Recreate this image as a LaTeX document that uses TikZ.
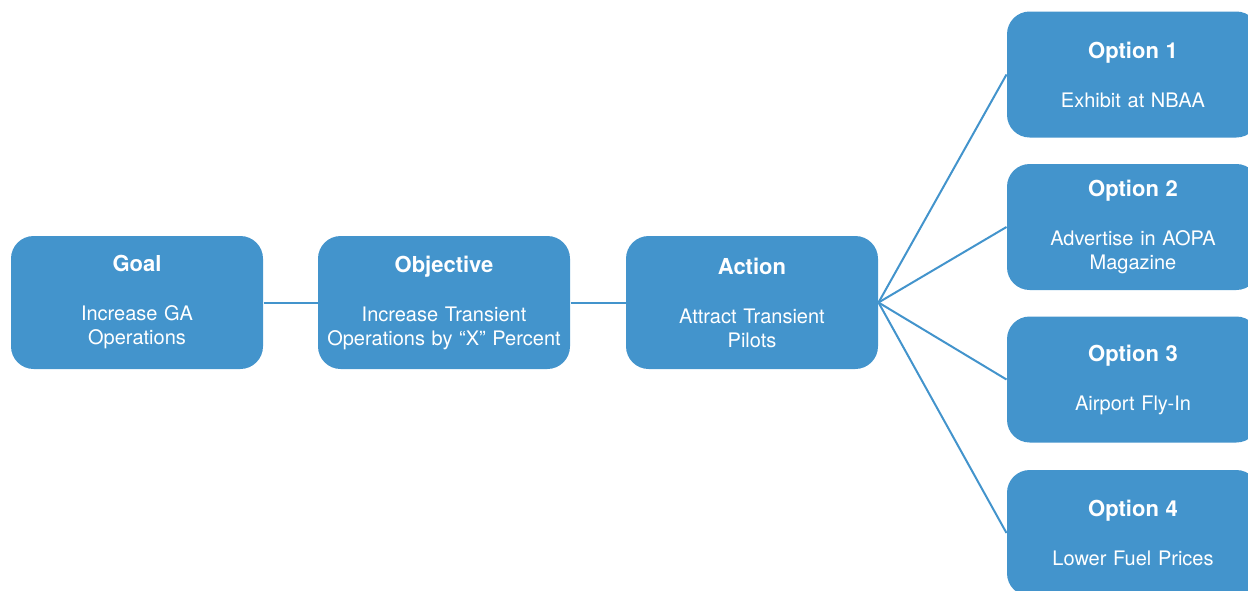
\documentclass[tikz,border=0pt]{standalone}
\usepackage{fontspec}
\setmainfont{TeX Gyre Heros}

\definecolor{boxblue}{RGB}{67,148,204}

\tikzset{every picture/.style={line width=0.75pt}}
\tikzset{
  stagebox/.style={fill=boxblue, draw=none, rounded corners=17pt, inner sep=0pt,
    minimum width=189pt, minimum height=99.75pt, text width=185pt, align=center,
    text=white, font=\fontsize{15}{18}\selectfont},
  optionbox/.style={stagebox, minimum height=94.5pt},
  link/.style={draw=boxblue, line width=1.5pt}
}
\newcommand{\boxtitle}[1]{{\bfseries\fontsize{16.5}{18}\selectfont #1}\\[18.75pt]}

\begin{document}
\begin{tikzpicture}[x=0.75pt,y=0.75pt,yscale=-1,xscale=1]
    \useasboundingbox (0,0) rectangle (1248,590);
    \clip (0,0) rectangle (1248,590);

    % Stage boxes
    \node [stagebox] (goal) at (137,302.5) {\boxtitle{Goal}Increase GA\\Operations};
    \node [stagebox] (objective) at (444,302.5) {\boxtitle{Objective}Increase Transient\\Operations by “X” Percent};
    \node [stagebox] (action) at (752,302.5) {\boxtitle{Action}Attract Transient\\Pilots};

    % Option boxes
    \node [optionbox] (opt1) at (1133,74.5) {\boxtitle{Option 1}Exhibit at NBAA};
    \node [optionbox] (opt2) at (1133,227) {\boxtitle{Option 2}Advertise in AOPA\\Magazine};
    \node [optionbox] (opt3) at (1133,379.5) {\boxtitle{Option 3}Airport Fly-In};
    \node [optionbox] (opt4) at (1133,533) {\boxtitle{Option 4}Lower Fuel Prices};

    % Straight Lines
    \draw [link] (goal.east) -- (objective.west);
    \draw [link] (objective.east) -- (action.west);
    \draw [link] (action.east) -- (opt1.west);
    \draw [link] (action.east) -- (opt2.west);
    \draw [link] (action.east) -- (opt3.west);
    \draw [link] (action.east) -- (opt4.west);

\end{tikzpicture}
\end{document}
